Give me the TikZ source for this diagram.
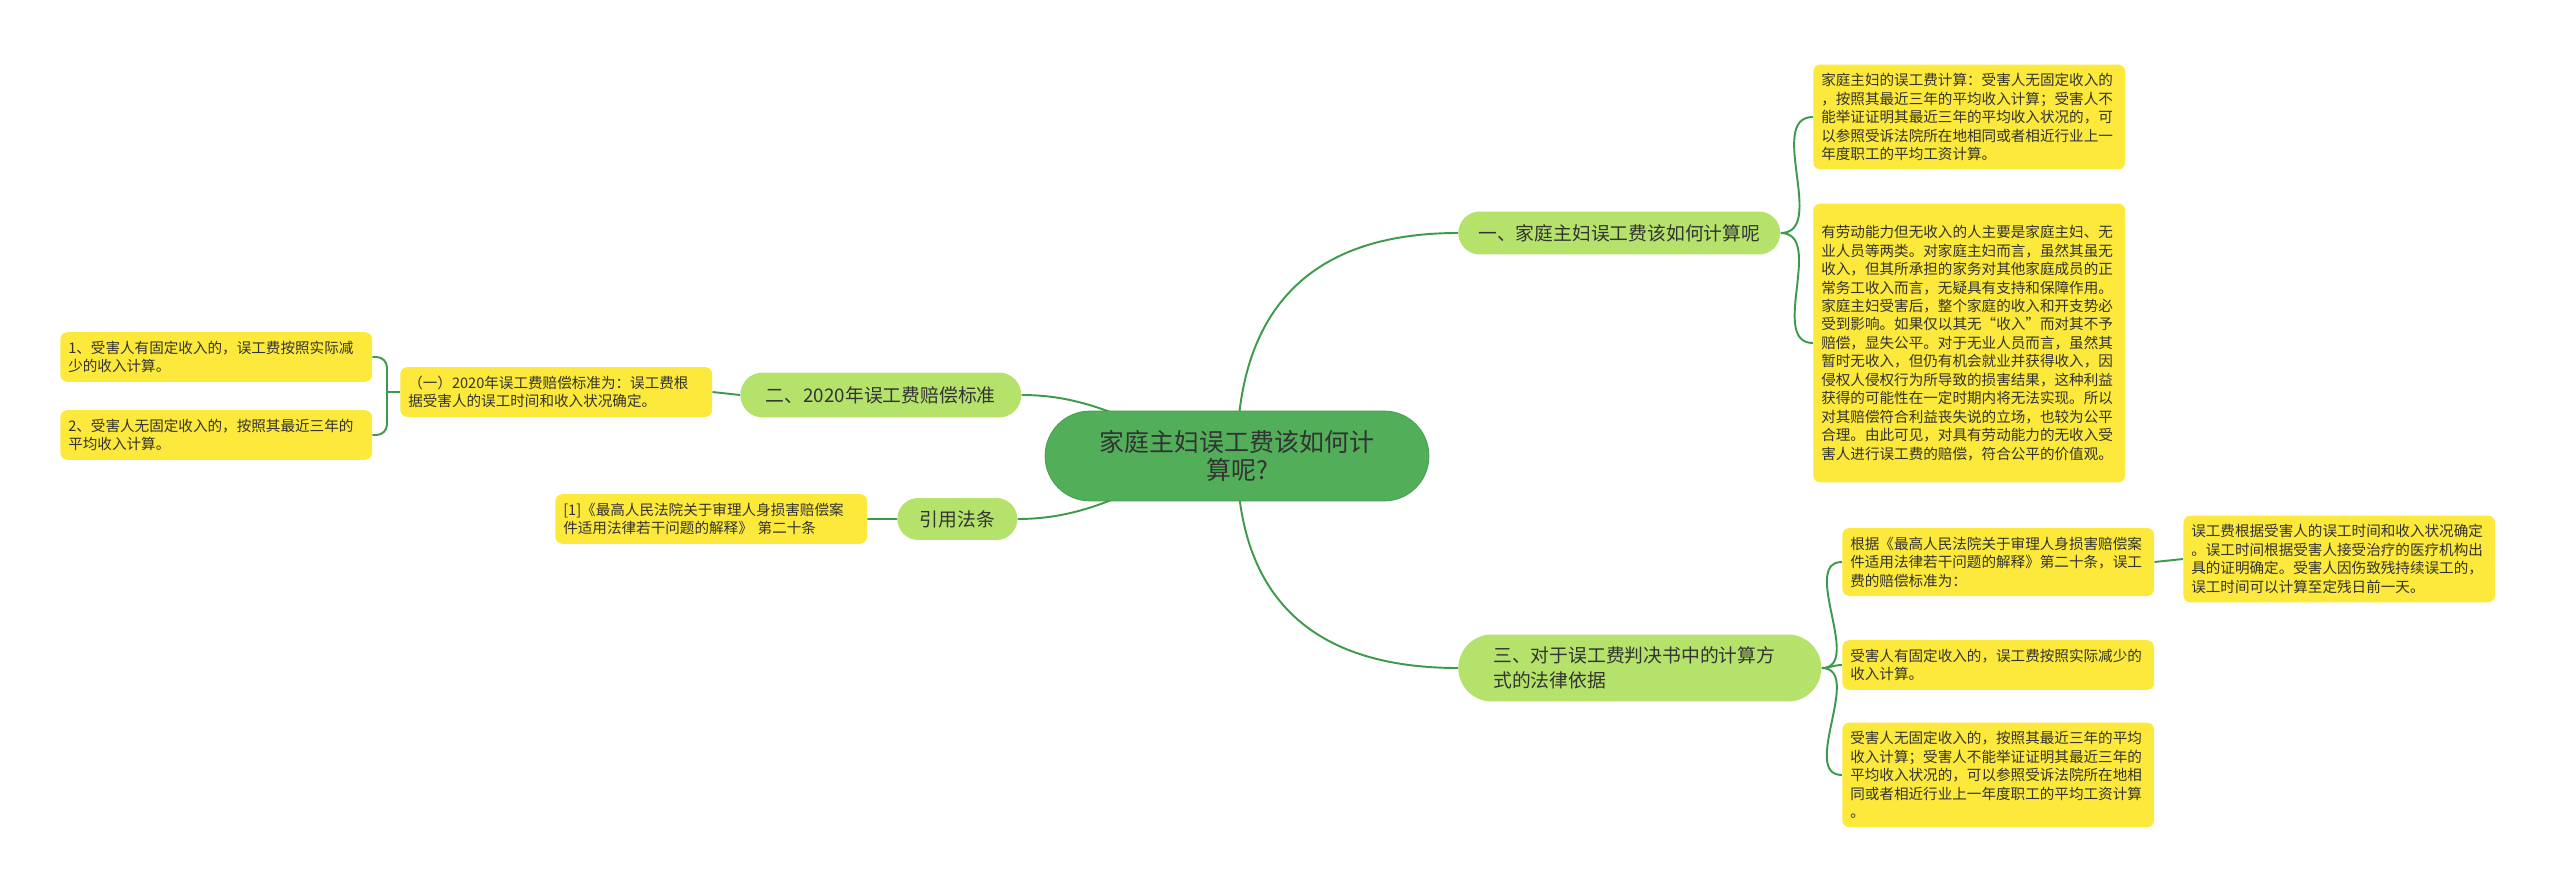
\documentclass[tikz,border=0pt]{standalone}
\usepackage{fontspec}
\setmainfont{Noto Sans CJK SC}
\usetikzlibrary{positioning, backgrounds}
\definecolor{rootgreen}{HTML}{52AE58}
\definecolor{rootline}{HTML}{43984A}
\definecolor{topicgreen}{HTML}{B5E26A}
\definecolor{leafyellow}{HTML}{FCE93C}
\definecolor{linegreen}{HTML}{3C9B4B}
\definecolor{textgray}{HTML}{333333}

\begin{document}
\begin{tikzpicture}[x=0.02cm, y=-0.02cm,
    root/.style={draw=rootline, fill=rootgreen, rounded corners=0.9cm, minimum width=7.68cm, minimum height=1.8cm, align=center, text=textgray, font=\fontsize{14.2}{16}\selectfont},
    topic/.style={fill=topicgreen, anchor=west, text=textgray, font=\fontsize{10.7}{14.2}\selectfont},
    leaf/.style={fill=leafyellow, rounded corners=4pt, anchor=west, text width=5.92cm, align=left, inner xsep=4.5pt, inner ysep=5pt, text=textgray, font=\fontsize{8.3}{10.5}\selectfont},
    link/.style={draw=linegreen, line width=1.1pt}]
    \useasboundingbox (0,0) rectangle (2560,895);

    % centre
    \node[root] (c) at (1237,456) {家庭主妇误工费该如何计\\算呢?};

    % right side
    \node[topic, rounded corners=0.43cm, minimum width=6.44cm, minimum height=0.86cm] (b1) at (1458,233) {一、家庭主妇误工费该如何计算呢};
    \node[leaf] (l1a) at (1813,117) {家庭主妇的误工费计算：受害人无固定收入的\\，按照其最近三年的平均收入计算；受害人不\\能举证证明其最近三年的平均收入状况的，可\\以参照受诉法院所在地相同或者相近行业上一\\年度职工的平均工资计算。};
    \node[leaf, minimum height=5.58cm] (l1b) at (1813,343) {有劳动能力但无收入的人主要是家庭主妇、无\\业人员等两类。对家庭主妇而言，虽然其虽无\\收入，但其所承担的家务对其他家庭成员的正\\常务工收入而言，无疑具有支持和保障作用。\\家庭主妇受害后，整个家庭的收入和开支势必\\受到影响。如果仅以其无“收入”而对其不予\\赔偿，显失公平。对于无业人员而言，虽然其\\暂时无收入，但仍有机会就业并获得收入，因\\侵权人侵权行为所导致的损害结果，这种利益\\获得的可能性在一定时期内将无法实现。所以\\对其赔偿符合利益丧失说的立场，也较为公平\\合理。由此可见，对具有劳动能力的无收入受\\害人进行误工费的赔偿，符合公平的价值观。};

    \node[topic, rounded corners=0.67cm, minimum height=1.34cm, text width=5.86cm, align=left, inner xsep=0.7cm] (b3) at (1458,668) {三、对于误工费判决书中的计算方\\式的法律依据};
    \node[leaf] (l3a) at (1842,562) {根据《最高人民法院关于审理人身损害赔偿案\\件适用法律若干问题的解释》第二十条，误工\\费的赔偿标准为：};
    \node[leaf] (l3a1) at (2183,559) {误工费根据受害人的误工时间和收入状况确定\\。误工时间根据受害人接受治疗的医疗机构出\\具的证明确定。受害人因伤致残持续误工的，\\误工时间可以计算至定残日前一天。};
    \node[leaf] (l3b) at (1842,665) {受害人有固定收入的，误工费按照实际减少的\\收入计算。};
    \node[leaf] (l3c) at (1842,775) {受害人无固定收入的，按照其最近三年的平均\\收入计算；受害人不能举证证明其最近三年的\\平均收入状况的，可以参照受诉法院所在地相\\同或者相近行业上一年度职工的平均工资计算\\。};

    % left side
    \node[topic, rounded corners=0.45cm, minimum width=5.62cm, minimum height=0.9cm] (b2) at (740,395) {二、2020年误工费赔偿标准};
    \node[leaf] (l2) at (400,392) {（一）2020年误工费赔偿标准为：误工费根\\据受害人的误工时间和收入状况确定。};
    \node[leaf] (l21) at (60,357) {1、受害人有固定收入的，误工费按照实际减\\少的收入计算。};
    \node[leaf] (l22) at (60,435) {2、受害人无固定收入的，按照其最近三年的\\平均收入计算。};
    \coordinate (s2) at ([xshift=-0.26cm]l2.west);

    \node[topic, rounded corners=0.42cm, minimum width=2.4cm, minimum height=0.84cm] (cite) at (897,519) {引用法条};
    \node[leaf] (lcite) at (555,519) {[1]《最高人民法院关于审理人身损害赔偿案\\件适用法律若干问题的解释》 第二十条};

    \begin{scope}[on background layer]
        \fill[white] (0,0) rectangle (2560,895);
        \path[link]
            (c.center) to[out=90, in=180, looseness=1.2] (b1.west)
            (c.center) to[out=-90, in=180, looseness=1.2] (b3.west)
            (c.center) to[out=170, in=0] (b2.east)
            (c.center) to[out=190, in=0] (cite.east)
            (b1.east) to[out=0, in=180] (l1a.west)
            (b1.east) to[out=0, in=180] (l1b.west)
            (b3.east) to[out=0, in=180] (l3a.west)
            (b3.east) to[out=0, in=180] (l3b.west)
            (b3.east) to[out=0, in=180] (l3c.west)
            (l3a.east) -- (l3a1.west)
            (b2.west) -- (l2.east)
            (cite.west) -- (lcite.east);
        \draw[link, rounded corners=6pt] (l21.east) -| (s2) |- (l22.east);
        \draw[link] (s2) -- (l2.west);
    \end{scope}
\end{tikzpicture}
\end{document}
